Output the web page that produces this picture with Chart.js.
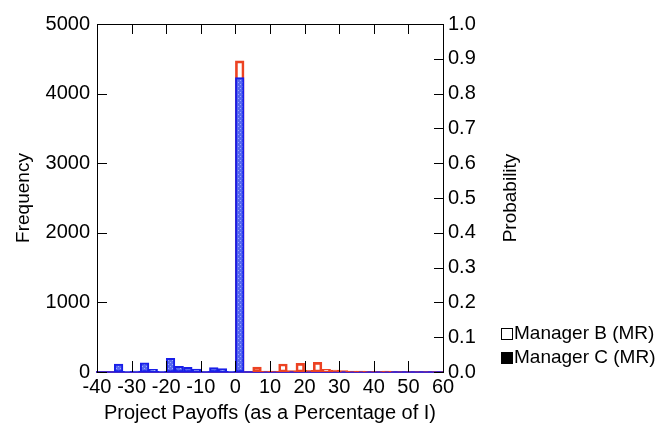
<!DOCTYPE html>
<html>
<head>
<meta charset="utf-8">
<script src="https://cdn.jsdelivr.net/npm/chart.js@4/dist/chart.umd.min.js"></script>
<style>
    html, body { margin: 0; padding: 0; background: #fff; }
    #wrap { width: 657px; height: 423px; }
</style>
</head>
<body>
<div id="wrap"><canvas id="histChart" width="657" height="423"></canvas></div>
<script>
// bin centres, 2.5 wide, from -40 to 60
const binCenters = [
    -38.75, -36.25, -33.75, -31.25, -28.75, -26.25, -23.75, -21.25, -18.75, -16.25,
    -13.75, -11.25, -8.75, -6.25, -3.75, -1.25, 1.25, 3.75, 6.25, 8.75,
    11.25, 13.75, 16.25, 18.75, 21.25, 23.75, 26.25, 28.75, 31.25, 33.75,
    36.25, 38.75, 41.25, 43.75, 46.25, 48.75, 51.25, 53.75, 56.25, 58.75
];

const managerB = [
    0, 0, 0, 0, 0, 0, 0, 0, 0, 0,
    0, 0, 0, 0, 0, 0, 4470, 0, 70, 15,
    15, 115, 20, 125, 25, 139, 40, 29, 20, 15,
    15, 5, 5, 15, 3, 3, 3, 3, 3, 3
];

const managerC = [
    0, 0, 115, 10, 15, 133, 38, 10, 197, 80,
    67, 43, 5, 62, 50, 10, 4230, 0, 0, 0,
    0, 0, 0, 0, 0, 0, 0, 0, 0, 0,
    0, 0, 0, 0, 0, 0, 0, 0, 0, 0
];

const seriesNames = ['Manager B (MR)', 'Manager C (MR)'];
const xTicks = [-40, -30, -20, -10, 0, 10, 20, 30, 40, 50, 60];
const freqTicks = [0, 1000, 2000, 3000, 4000, 5000];
const probTicks = [0.0, 0.1, 0.2, 0.3, 0.4, 0.5, 0.6, 0.7, 0.8, 0.9, 1.0];

const FONT = 'Liberation Sans, Arial, sans-serif';

// dotted blue fill like the original
function makeBluePattern() {
    const c = document.createElement('canvas');
    c.width = 4; c.height = 4;
    const p = c.getContext('2d');
    p.fillStyle = 'rgb(86,104,240)';
    p.fillRect(0, 0, 4, 4);
    p.fillStyle = 'rgb(155,170,255)';
    p.fillRect(0, 0, 1, 1);
    p.fillRect(2, 2, 1, 1);
    return p.createPattern(c, 'repeat');
}

// inward ticks, top frame, right title and legend
const framePlugin = {
    id: 'frame',
    afterDraw(chart) {
        const ctx = chart.ctx;
        const a = chart.chartArea;
        const x = chart.scales.x, y = chart.scales.y, y1 = chart.scales.y1;
        ctx.save();
        ctx.strokeStyle = '#000';
        ctx.lineWidth = 1;
        ctx.beginPath();
        ctx.moveTo(a.left, a.top + 0.5);
        ctx.lineTo(a.right, a.top + 0.5);
        xTicks.forEach(v => {
            const px = Math.round(x.getPixelForValue(v)) + 0.5;
            ctx.moveTo(px, a.bottom);
            ctx.lineTo(px, a.bottom - 11);
            ctx.moveTo(px, a.top);
            ctx.lineTo(px, a.top + 10);
        });
        freqTicks.forEach(v => {
            const py = Math.round(y.getPixelForValue(v)) + 0.5;
            ctx.moveTo(a.left, py);
            ctx.lineTo(a.left + 10, py);
        });
        probTicks.forEach(v => {
            const py = Math.round(y1.getPixelForValue(v)) + 0.5;
            ctx.moveTo(a.right, py);
            ctx.lineTo(a.right - 9, py);
        });
        ctx.stroke();

        // right axis title, reading bottom to top
        ctx.fillStyle = '#000';
        ctx.font = '19px ' + FONT;
        ctx.textAlign = 'center';
        ctx.textBaseline = 'middle';
        ctx.translate(511, (a.top + a.bottom) / 2);
        ctx.rotate(-Math.PI / 2);
        ctx.fillText('Probability', 0, 0);
        ctx.restore();

        // legend
        ctx.save();
        ctx.font = '19px ' + FONT;
        ctx.textAlign = 'left';
        ctx.textBaseline = 'middle';
        chart.data.datasets.forEach((ds, i) => {
            const cy = 334 + i * 24;
            ctx.fillStyle = i === 0 ? '#fff' : '#000';
            ctx.fillRect(501, cy - 6, 12, 12);
            ctx.strokeStyle = '#000';
            ctx.lineWidth = 1;
            ctx.strokeRect(501.5, cy - 5.5, 11, 11);
            ctx.fillStyle = '#000';
            ctx.fillText(ds.label, 514, cy);
        });
        ctx.restore();
    }
};

const ctx = document.getElementById('histChart').getContext('2d');

new Chart(ctx, {
    type: 'bar',
    data: {
        datasets: [
            {
                label: seriesNames[0],
                data: binCenters.map((c, i) => ({ x: c, y: managerB[i] })),
                backgroundColor: 'rgba(0,0,0,0)',
                borderColor: 'rgb(236,66,34)',
                borderWidth: 2,
                borderSkipped: false,
                order: 2
            },
            {
                label: seriesNames[1],
                data: binCenters.map((c, i) => ({ x: c, y: managerC[i] })),
                backgroundColor: makeBluePattern(),
                borderColor: 'rgb(24,30,232)',
                borderWidth: 2,
                borderSkipped: false,
                order: 1
            }
        ]
    },
    options: {
        responsive: false,
        animation: false,
        events: [],
        layout: { padding: { top: 24, left: 0, right: 0, bottom: 0 } },
        datasets: {
            bar: { grouped: false, barPercentage: 1, categoryPercentage: 1 }
        },
        plugins: {
            legend: { display: false },
            tooltip: { enabled: false }
        },
        scales: {
            x: {
                type: 'linear',
                min: -40,
                max: 60,
                offset: false,
                grid: { display: false, drawTicks: false, offset: false },
                border: { display: true, color: 'rgb(70,40,200)', width: 2 },
                ticks: {
                    stepSize: 10,
                    padding: 3,
                    maxRotation: 0,
                    autoSkip: false,
                    color: '#000',
                    font: { family: FONT, size: 20 }
                },
                title: {
                    display: true,
                    text: 'Project Payoffs (as a Percentage of I)',
                    color: '#000',
                    font: { family: FONT, size: 20 },
                    padding: { top: 0, bottom: -2 }
                },
                afterFit: s => { s.height = 51; }
            },
            y: {
                position: 'left',
                min: 0,
                max: 5000,
                grid: { display: false, drawTicks: false },
                border: { display: true, color: '#000', width: 1 },
                ticks: {
                    stepSize: 1000,
                    padding: 7,
                    color: '#000',
                    font: { family: FONT, size: 20 },
                    callback: v => String(v)
                },
                title: {
                    display: true,
                    text: 'Frequency',
                    color: '#000',
                    font: { family: FONT, size: 19 },
                    padding: { top: 12, bottom: 0 }
                },
                afterFit: s => { s.width = 97; }
            },
            y1: {
                position: 'right',
                min: 0,
                max: 1,
                grid: { display: false, drawTicks: false },
                border: { display: true, color: '#000', width: 1 },
                ticks: {
                    stepSize: 0.1,
                    padding: 5,
                    color: '#000',
                    font: { family: FONT, size: 20 },
                    callback: v => v.toFixed(1)
                },
                afterFit: s => { s.width = 214; }
            }
        }
    },
    plugins: [framePlugin]
});
</script>
</body>
</html>
